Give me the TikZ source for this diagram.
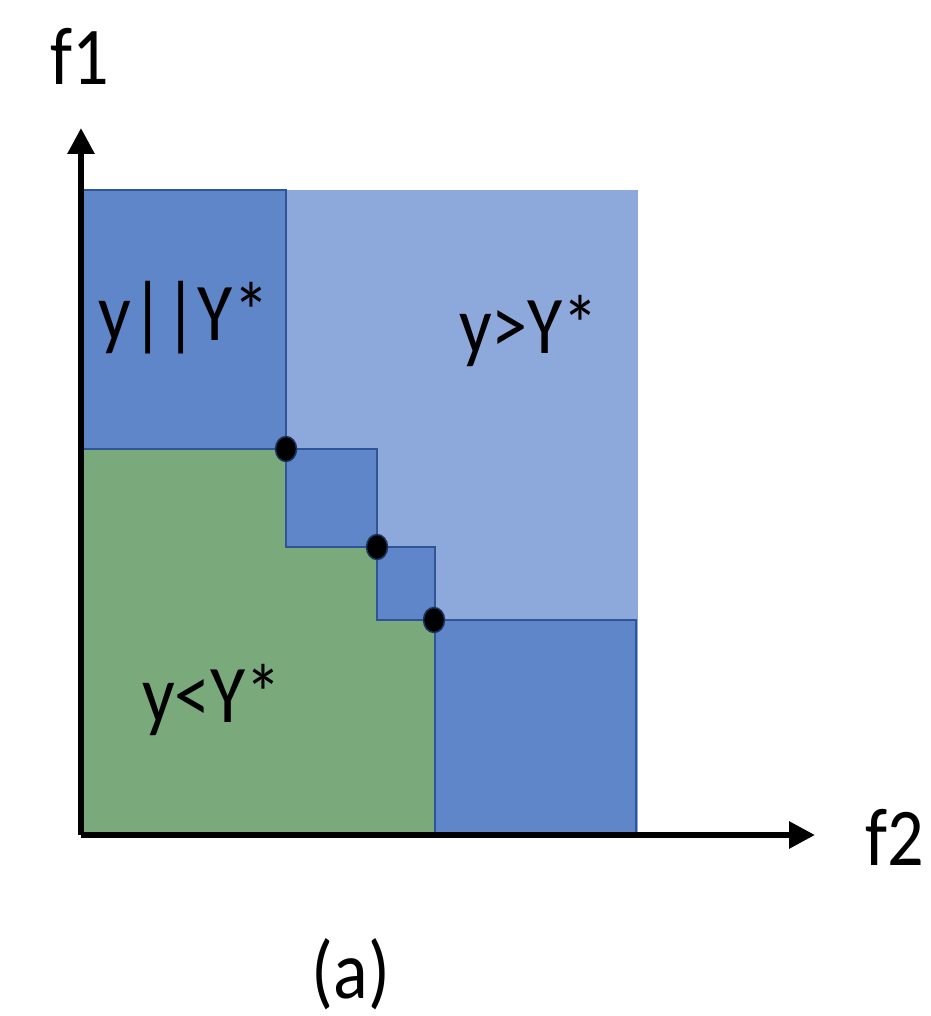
\documentclass[tikz,border=0pt]{standalone}
\usepackage{fontspec}
\setmainfont{Carlito}
\usetikzlibrary{shapes.geometric,arrows.meta}
\definecolor{lightreg}{HTML}{8DA9DB}
\definecolor{darkreg}{HTML}{5E86C9}
\definecolor{greenreg}{HTML}{7AAA7C}
\definecolor{edgeblue}{HTML}{2F5597}
\newcommand{\narrowtxt}[1]{\scalebox{0.88}[1]{#1}}
\tikzset{
  region/.style={draw=edgeblue, line width=2.5pt},
  axisline/.style={line width=6pt, -{Triangle[length=26pt,width=26pt]}},
  ptdot/.style={ellipse, fill=black, draw=edgeblue!60!black, line width=1.5pt, minimum width=21pt, minimum height=25pt, inner sep=0pt},
  lbl/.style={font=\fontsize{82}{96}\selectfont, anchor=base, inner sep=0pt},
}
\begin{document}
\begin{tikzpicture}[x=1pt,y=-1pt]
\useasboundingbox (0,0) rectangle (930,1016);
% regions
\fill[lightreg] (80,190) rectangle (638,833);
\fill[greenreg] (80,449) -- (286,449) -- (286,547) -- (377,547) -- (377,620) -- (435,620) -- (435,833) -- (80,833) -- cycle;
\filldraw[darkreg, region] (80,190) rectangle (286,449);
\filldraw[darkreg, region] (286,449) rectangle (377,547);
\filldraw[darkreg, region] (377,547) rectangle (435,620);
\filldraw[darkreg, region] (435,620) rectangle (636,833);
% axes
\coordinate (origin) at (81,835);
\coordinate (ytip) at (81,128);
\coordinate (xtip) at (815,835);
\draw[axisline] (origin) -- (ytip);
\draw[axisline] (origin) -- (xtip);
% points
\node[ptdot] (p1) at (286,449) {};
\node[ptdot] (p2) at (377,547) {};
\node[ptdot] (p3) at (434,620) {};
% labels
\node[lbl] (f1) at (80,85) {\narrowtxt{f1}};
\node[lbl] (f2) at (895,865) {\narrowtxt{f2}};
\node[lbl] (inc) at (184,340) {\narrowtxt{y||Y*}};
\node[lbl] (dom) at (529,353) {\narrowtxt{y>Y*}};
\node[lbl] (better) at (212,722) {\narrowtxt{y<Y*}};
\node[lbl] (cap) at (351,998) {\narrowtxt{(a)}};
\end{tikzpicture}
\end{document}
